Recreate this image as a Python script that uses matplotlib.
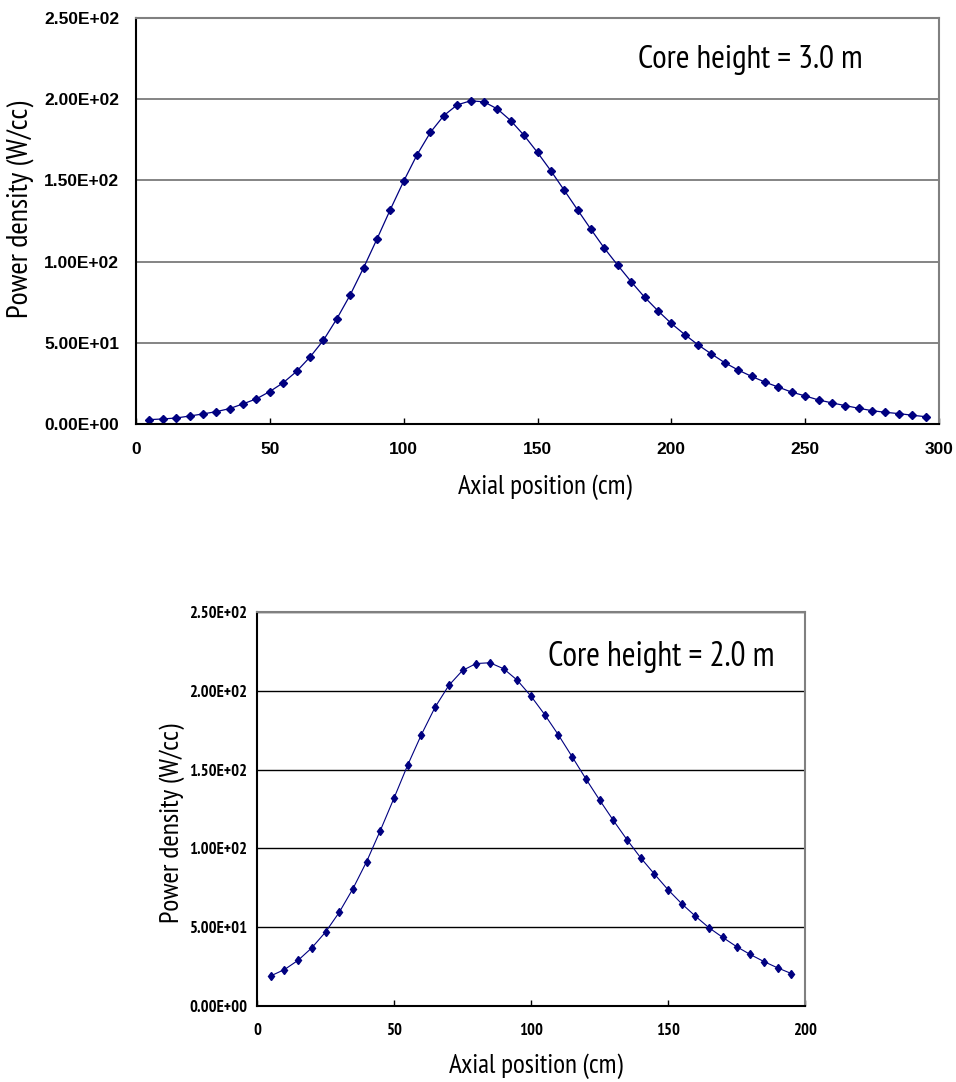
import matplotlib
matplotlib.use('Agg')
import matplotlib.pyplot as plt
import numpy as np
from matplotlib import font_manager

# 找一个窄体字体，没有的话用 Liberation Sans 缩小字号
narrow = 'Liberation Sans'
for f in font_manager.fontManager.ttflist:
    if 'Narrow' in f.fname and 'Sans' in f.name:
        narrow = f.name
        break

# 数据：堆芯高度 3.0 m
x_3m = list(range(5, 300, 5))
p_3m = [2.7, 3.1, 3.7, 4.9, 6.2, 7.6, 9.5, 12.4, 15.5, 20.0,
        25.4, 32.4, 41.2, 51.5, 64.7, 79.4, 96.1, 113.8, 132.0, 149.5,
        165.8, 179.6, 189.9, 196.5, 199.0, 198.4, 194.0, 186.8, 177.7, 167.2,
        155.9, 143.9, 131.8, 119.8, 108.2, 97.7, 87.6, 78.1, 69.7, 61.9,
        55.1, 48.7, 43.1, 37.7, 33.2, 29.3, 25.8, 22.7, 19.6, 17.3,
        14.8, 13.0, 11.3, 9.7, 8.2, 7.2, 6.4, 5.4, 4.5]

# 数据：堆芯高度 2.0 m
x_2m = list(range(5, 200, 5))
p_2m = [19.1, 23.1, 29.0, 36.9, 46.9, 59.4, 74.4, 91.6, 111.3, 131.9,
        152.9, 172.2, 189.6, 203.4, 212.9, 217.3, 217.8, 214.0, 206.7, 196.6,
        184.9, 172.0, 158.2, 144.2, 130.8, 117.9, 105.6, 94.1, 83.8, 73.8,
        64.9, 57.0, 49.6, 43.5, 37.7, 32.7, 28.2, 24.2, 20.6]

yticks = [0, 50, 100, 150, 200, 250]
ytick_labels = ['0.00E+00', '5.00E+01', '1.00E+02', '1.50E+02', '2.00E+02', '2.50E+02']
xticks_3m = [0, 50, 100, 150, 200, 250, 300]
xticks_2m = [0, 50, 100, 150, 200]

W, H = 956, 1082
fig = plt.figure(figsize=(W / 100, H / 100), dpi=100)
renderer = fig.canvas.get_renderer()

def px(x0, y0, x1, y1):
    return [x0 / W, 1 - y1 / H, (x1 - x0) / W, (y1 - y0) / H]

def fit_text(x, y, s, length, size=18, rotation=0, **kw):
    # 按参考图里文字的长度调整字号
    t = fig.text(x / W, 1 - y / H, s, family=narrow, fontsize=size,
                 rotation=rotation, **kw)
    bb = t.get_window_extent(renderer)
    cur = bb.height if rotation == 90 else bb.width
    t.set_fontsize(size * length / cur)
    return t

def style(ax, gridcolor, lw):
    for s in ['left', 'bottom']:
        ax.spines[s].set_color('black')
        ax.spines[s].set_linewidth(1.5)
    for s in ['top', 'right']:
        ax.spines[s].set_color('#808080')
        ax.spines[s].set_linewidth(1.5)
    ax.set_axisbelow(True)
    ax.yaxis.grid(True, color=gridcolor, linewidth=lw)

# 上图
ax1 = fig.add_axes(px(136, 18, 939, 424))
ax1.plot(x_3m, p_3m, color='#000080', linewidth=0.9, marker='D', markersize=4.2)
ax1.set_xlim(0, 300)
ax1.set_ylim(0, 250)
ax1.set_xticks(xticks_3m)
ax1.set_yticks(yticks)
ax1.set_yticklabels(ytick_labels)
style(ax1, '#707070', 1.2)
ax1.tick_params(axis='x', direction='in', length=4, width=1, pad=13)
ax1.tick_params(axis='y', length=0, pad=12)
for lab in ax1.get_xticklabels() + ax1.get_yticklabels():
    lab.set_fontfamily('Liberation Sans')
    lab.set_fontweight('bold')
    lab.set_fontsize(12.5)
fit_text(750, 68, 'Core height = 3.0 m', 225, ha='center', va='baseline')
fit_text(545, 487, 'Axial position (cm)', 174, ha='center', va='center')
fit_text(20, 209, 'Power density (W/cc)', 218, rotation=90, ha='center', va='center')

# 下图
ax2 = fig.add_axes(px(257, 612, 805, 1006))
ax2.plot(x_2m, p_2m, color='#000080', linewidth=0.8, marker='d', markersize=4.5)
ax2.set_xlim(0, 200)
ax2.set_ylim(0, 250)
ax2.set_xticks(xticks_2m)
ax2.set_yticks(yticks)
ax2.set_yticklabels(ytick_labels)
style(ax2, 'black', 1.0)
ax2.tick_params(axis='x', direction='in', length=4, width=1, pad=12)
ax2.tick_params(axis='y', length=0, pad=7)
for lab in ax2.get_xticklabels() + ax2.get_yticklabels():
    lab.set_fontfamily(narrow)
    lab.set_fontweight('bold')
    lab.set_fontsize(12)
fit_text(661, 666, 'Core height = 2.0 m', 227, ha='center', va='baseline')
fit_text(536, 1066, 'Axial position (cm)', 174, ha='center', va='center')
fit_text(172, 823, 'Power density (W/cc)', 200, rotation=90, ha='center', va='center')

fig.savefig('out.png', dpi=100)
